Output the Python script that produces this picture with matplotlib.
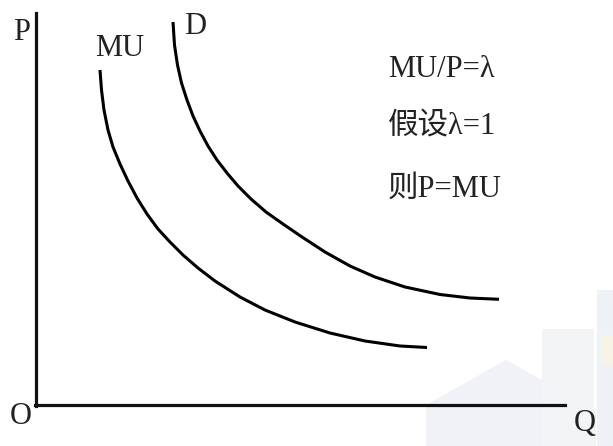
import matplotlib
matplotlib.use("Agg")
import matplotlib.pyplot as plt
from matplotlib.patches import Polygon, Rectangle

# Curve data (Q, P), origin at O
mu_q = [64, 65.5, 68, 72, 77, 84, 92, 101, 111, 122, 134, 147, 162, 179, 204, 229,
        259, 294, 329, 364, 391]
mu_p = [335, 315, 295, 275, 258, 241, 224, 207, 191, 176, 163, 150, 137, 124, 108, 95,
        83, 72, 64, 59, 57.5]

d_q = [137, 138.5, 141.5, 145.5, 151, 157, 164, 172, 181, 191, 202, 215, 230, 247, 266,
       289, 314, 339, 369, 404, 434, 463]
d_p = [383, 360, 340, 322, 305, 289, 274, 259, 245, 232, 219, 206, 193, 181, 168,
       153, 139, 128, 118, 110.5, 107, 105.7]

curve_labels = ["MU", "D"]
axis_labels = ["P", "Q", "O"]
notes = ["MU/P=λ", "假设λ=1", "则P=MU"]

fam = ["Liberation Serif", "Noto Sans CJK SC", "DejaVu Sans"]

fig = plt.figure(figsize=(6.13, 4.46), dpi=100)
ax = fig.add_axes([0, 0, 1, 1])
ax.set_xlim(-36, 577)
ax.set_ylim(-41, 405)
for s in ["top", "right"]:
    ax.spines[s].set_visible(False)
ax.spines["left"].set_position(("data", 0))
ax.spines["bottom"].set_position(("data", 0))
ax.spines["left"].set_bounds(-1, 392)
ax.spines["bottom"].set_bounds(-1, 529)
for s in ["left", "bottom"]:
    ax.spines[s].set_linewidth(2.3)
    ax.spines[s].set_color("#111111")
ax.set_xticks([])
ax.set_yticks([])

# faint watermark (background decoration)
wm = dict(zorder=0, lw=0)
ax.add_patch(Polygon([[390, 0], [470, 45], [560, -5], [560, -41], [390, -41]],
                     closed=True, facecolor="#f0f2f7", **wm))
ax.add_patch(Rectangle((506, -41), 52, 117, facecolor="#f3f4f6", **wm))
ax.add_patch(Rectangle((561, -41), 20, 156, facecolor="#eef1f6", **wm))
ax.add_patch(Rectangle((565, 40), 20, 30, facecolor="#f7f4e6", **wm))

kw = dict(color="black", lw=2.2, solid_capstyle="butt", solid_joinstyle="round")
ax.plot(mu_q, mu_p, **kw)
ax.plot(d_q, d_p, **kw)

fs = 22
tc = "#222222"
ax.text(-14, 372, axis_labels[0], family=fam, fontsize=fs, ha="center", va="center", color=tc)
ax.text(549, -19, axis_labels[1], family=fam, fontsize=fs, ha="center", va="center", color=tc)
ax.text(-15, -11, axis_labels[2], family=fam, fontsize=fs, ha="center", va="center", color=tc)
ax.text(84, 356, curve_labels[0], family=fam, fontsize=fs, ha="center", va="center", color=tc)
ax.text(159, 379, curve_labels[1], family=fam, fontsize=fs, ha="center", va="center", color=tc)

for txt, yb in zip(notes, [328, 271, 208]):
    ax.text(352, yb, txt, family=fam, fontsize=fs, ha="left", va="baseline", color=tc)

fig.savefig("out.png", dpi=100)
